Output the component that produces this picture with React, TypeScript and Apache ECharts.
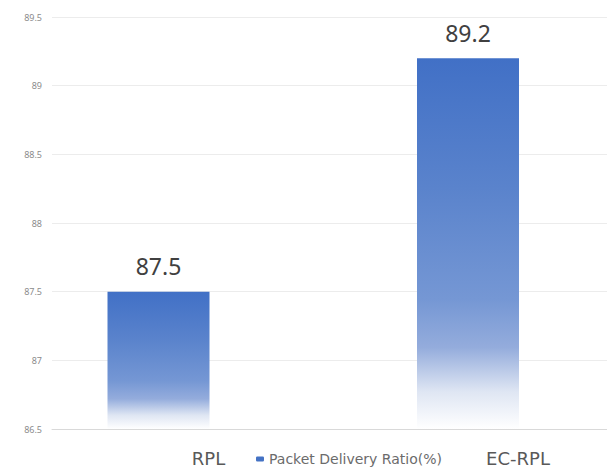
import React, { useEffect, useRef } from "react";
import * as echarts from "echarts";

const categories = ["RPL", "EC-RPL"];
const seriesName = "Packet Delivery Ratio(%)";
const values = [87.5, 89.2];
const yMin = 86.5;
const yMax = 89.5;
const yInterval = 0.5;

const CHART_W = 640;

export default function App() {
  const ref = useRef<HTMLDivElement>(null);
  useEffect(() => {
    if (!ref.current) return;
    const chart = echarts.init(ref.current, undefined, { renderer: "svg" });
    const font = "Noto Sans";
    const gradient = new echarts.graphic.LinearGradient(0, 0, 0, 1, [
      { offset: 0, color: "#4170c6" },
      { offset: 0.35, color: "#5a83cc" },
      { offset: 0.65, color: "#7597d4" },
      { offset: 0.78, color: "#94acdc" },
      { offset: 0.9, color: "#dfe6f3" },
      { offset: 1, color: "#ffffff" },
    ]);
    chart.setOption({
      animation: false,
      backgroundColor: "#ffffff",
      textStyle: { fontFamily: font },
      legend: {
        data: [seriesName],
        left: 251,
        top: 447,
        itemWidth: 8,
        itemHeight: 5,
        itemGap: 4,
        textStyle: { fontSize: 14, color: "#6b6b6b", fontFamily: "DejaVu Sans" },
        itemStyle: { color: "#4472c4" },
      },
      grid: [
        { left: 52, right: CHART_W - 607, top: 17, bottom: 42 },
        { left: 3.75, right: CHART_W - 622.75, top: 17, bottom: 42 },
      ],
      xAxis: [
        {
          type: "category",
          gridIndex: 0,
          data: categories,
          axisLine: { lineStyle: { color: "#d9d9d9" } },
          axisTick: { show: false },
          axisLabel: { show: false },
        },
        {
          type: "category",
          gridIndex: 1,
          data: categories,
          axisLine: { show: false },
          axisTick: { show: false },
          axisLabel: {
            fontSize: 18,
            color: "#595959",
            margin: 20,
            padding: [0, 0, 0, 100],
            fontFamily: "DejaVu Sans",
          },
        },
      ],
      yAxis: [
        {
          type: "value",
          gridIndex: 0,
          min: yMin,
          max: yMax,
          interval: yInterval,
          axisLine: { show: false },
          axisTick: { show: false },
          axisLabel: { fontSize: 9, color: "#8c8c8c", margin: 10, fontFamily: font },
          splitLine: { lineStyle: { color: "#ececec" } },
        },
        {
          type: "value",
          gridIndex: 1,
          min: yMin,
          max: yMax,
          interval: yInterval,
          show: false,
          splitLine: { show: false },
        },
      ],
      series: [
        {
          name: seriesName,
          type: "bar",
          xAxisIndex: 1,
          yAxisIndex: 1,
          data: values,
          barWidth: 102,
          itemStyle: { color: gradient },
          label: {
            show: true,
            position: "top",
            distance: 14,
            fontSize: 23,
            color: "#404040",
            fontFamily: font,
          },
        },
      ],
    });
    return () => chart.dispose();
  }, []);
  return (
    <div style={{ position: "absolute", left: 0, top: 0, width: 607, height: 471, overflow: "hidden" }}>
      <div ref={ref} style={{ width: CHART_W, height: 471 }} />
    </div>
  );
}
